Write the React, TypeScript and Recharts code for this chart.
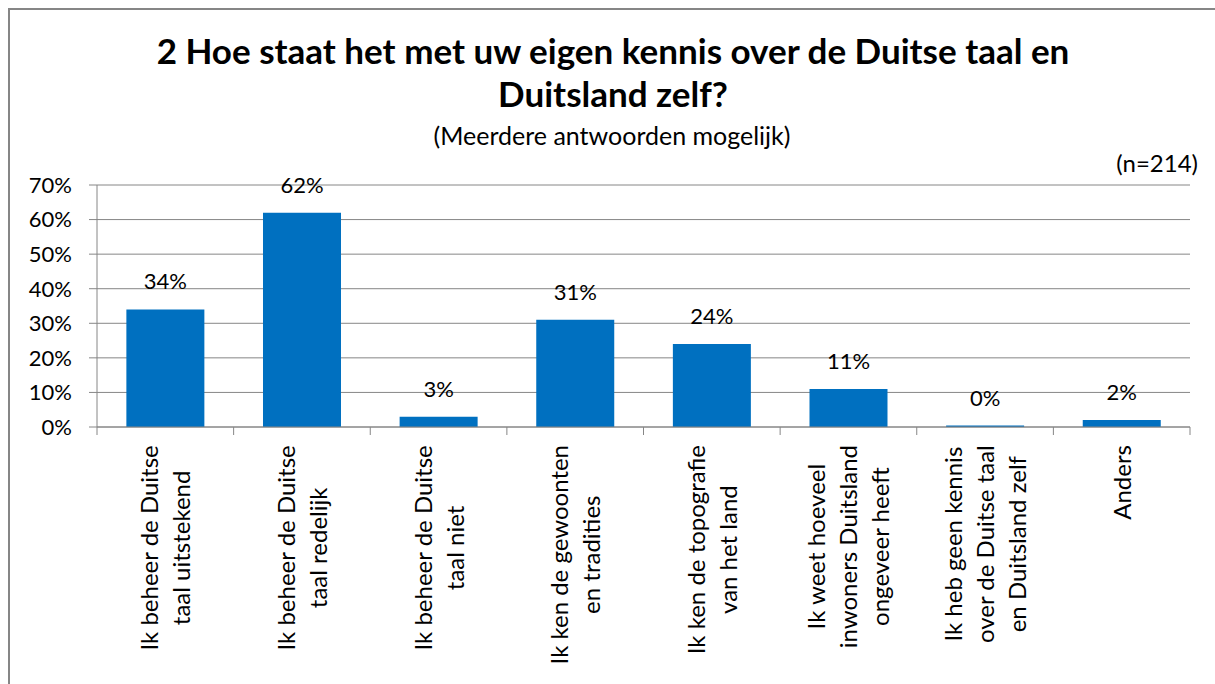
import { BarChart, Bar, XAxis, YAxis, CartesianGrid, LabelList } from "recharts";

const categories = [
  ["Ik beheer de Duitse", "taal uitstekend"],
  ["Ik beheer de Duitse", "taal redelijk"],
  ["Ik beheer de Duitse", "taal niet"],
  ["Ik ken de gewoonten", "en tradities"],
  ["Ik ken de topografie", "van het land"],
  ["Ik weet hoeveel", "inwoners Duitsland", "ongeveer heeft"],
  ["Ik heb geen kennis", "over de Duitse taal", "en Duitsland zelf"],
  ["Anders"],
];
const percentages = [34, 62, 3, 31, 24, 11, 0.4, 2];
const yTicks = [0, 10, 20, 30, 40, 50, 60, 70];

const title = ["2 Hoe staat het met uw eigen kennis over de Duitse taal en", "Duitsland zelf?"];
const subtitle = "(Meerdere antwoorden mogelijk)";
const sampleNote = "(n=214)";

const data = categories.map((lines, i) => ({ name: lines.join(" "), value: percentages[i] }));

const FONT = "Lato, 'Noto Sans', sans-serif";
const AXIS_GREY = "#868686";
const LABEL_SIZE = 22;
const CAT_SIZE = 24;

let canvas: HTMLCanvasElement | null = null;
const measure = (s: string) => {
  if (!canvas) canvas = document.createElement("canvas");
  const ctx = canvas.getContext("2d")!;
  ctx.font = `${CAT_SIZE}px Lato`;
  return ctx.measureText(s).width;
};

// Excel style: tick marks between categories, stacked vertical labels
const CategoryTick = (props: any) => {
  const { x, y, index, width, visibleTicksCount } = props;
  const step = width / visibleTicksCount;
  const lines = categories[index];
  const longest = Math.max(...lines.map(measure));
  const center = y + 18 + longest / 2;
  return (
    <g>
      <line x1={x - step / 2} x2={x - step / 2} y1={y} y2={y + 8} stroke={AXIS_GREY} />
      {index === visibleTicksCount - 1 && (
        <line x1={x + step / 2} x2={x + step / 2} y1={y} y2={y + 8} stroke={AXIS_GREY} />
      )}
      <text
        transform={`translate(${x},${center}) rotate(-90)`}
        textAnchor="middle"
        fontFamily={FONT}
        fontSize={CAT_SIZE}
        fill="#000"
      >
        {lines.map((l, i) => (
          <tspan key={i} x={0} y={(i - (lines.length - 1) / 2) * 32 + 9}>
            {l}
          </tspan>
        ))}
      </text>
    </g>
  );
};

export default function App() {
  return (
    <div
      style={{
        position: "absolute",
        left: 0,
        top: 0,
        width: 1215,
        height: 684,
        overflow: "hidden",
        background: "#fff",
      }}
    >
      <BarChart
        width={1215}
        height={684}
        data={data}
        margin={{ top: 185, right: 25, left: 17, bottom: 17 }}
        barCategoryGap="21.5%"
      >
        <CartesianGrid vertical={false} stroke={AXIS_GREY} />
        <XAxis
          dataKey="name"
          interval={0}
          height={240}
          stroke={AXIS_GREY}
          tickLine={false}
          tickSize={0}
          tickMargin={0}
          tick={<CategoryTick />}
        />
        <YAxis
          width={80}
          domain={[0, 70]}
          ticks={yTicks}
          tickFormatter={(v) => `${v}%`}
          stroke={AXIS_GREY}
          tickSize={8}
          tickMargin={17}
          tick={{ fill: "#000", fontSize: LABEL_SIZE, fontFamily: FONT }}
        />
        <Bar dataKey="value" fill="#0070C0" isAnimationActive={false}>
          <LabelList
            dataKey="value"
            position="top"
            offset={20}
            formatter={(v: any) => `${Math.round(v)}%`}
            fill="#000"
            fontSize={LABEL_SIZE}
            fontFamily={FONT}
          />
        </Bar>
      </BarChart>
      <svg
        width={1215}
        height={684}
        style={{ position: "absolute", left: 0, top: 0, pointerEvents: "none" }}
      >
        <path d="M9,684 V9 H1215" fill="none" stroke={AXIS_GREY} strokeWidth={2} />
        <text x={613} y={64} textAnchor="middle" fontFamily={FONT} fontWeight="bold" fontSize={35}>
          {title[0]}
        </text>
        <text x={613} y={107} textAnchor="middle" fontFamily={FONT} fontWeight="bold" fontSize={35}>
          {title[1]}
        </text>
        <text x={612} y={145} textAnchor="middle" fontFamily={FONT} fontSize={25}>
          {subtitle}
        </text>
        <text x={1198} y={172} textAnchor="end" fontFamily={FONT} fontSize={24}>
          {sampleNote}
        </text>
      </svg>
    </div>
  );
}
